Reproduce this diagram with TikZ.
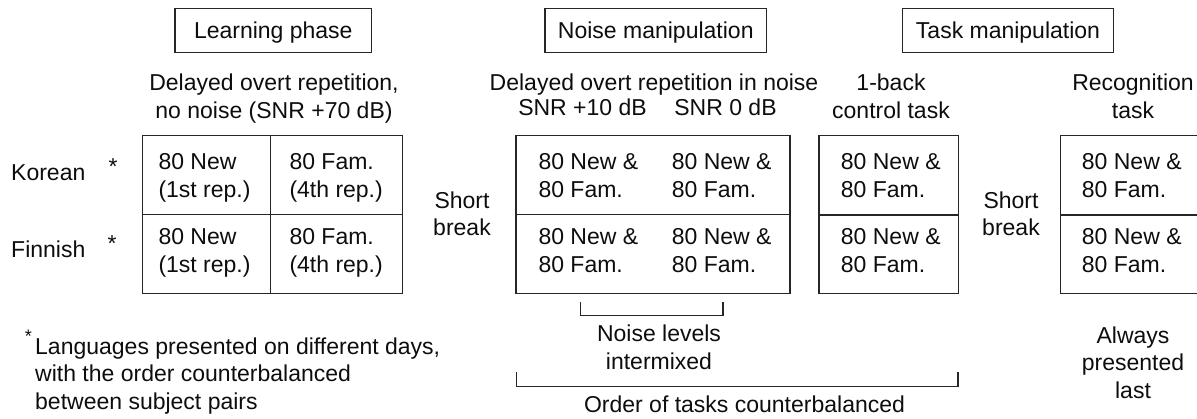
\documentclass[tikz,border=0pt]{standalone}
\usepackage{fontspec}
\setmainfont{Liberation Sans}
\newcommand{\fs}{\fontsize{23}{27.6}\selectfont}
\begin{document}
\begin{tikzpicture}[x=1pt,y=-1pt,
  txt/.style={font=\fs, inner sep=0pt, text=black!95},
  ctr/.style={txt, align=center, anchor=north},
  lft/.style={txt, align=left, anchor=north west},
  bse/.style={txt, anchor=base},
  frame/.style={draw=black!85, line width=1.2pt},
  title/.style={frame, txt, text height=16.6pt, text depth=0pt, minimum height=44.4pt, anchor=center}]
\useasboundingbox (0,0) rectangle (1197,419);

% titles
\node[title, minimum width=196.7pt] (tlearn) at (273.3,30.5) {Learning phase};
\node[title, minimum width=221.7pt] (tnoise) at (655.8,30.5) {Noise manipulation};
\node[title, minimum width=210.6pt] (ttask) at (1008,30.5) {Task manipulation};

% column headers
\node[ctr] (hlearn) at (274,74.1) {Delayed overt repetition,\\no noise (SNR +70 dB)};
\node[bse] (hnoise) at (654,90.7) {Delayed overt repetition in noise};
\node[bse] (snr10) at (582.5,116) {SNR +10 dB};
\node[bse] (snr0) at (725.5,116) {SNR 0 dB};
\node[ctr] (hback) at (891,74.1) {1-back\\control task};
\node[ctr] (hrec) at (1133,74.1) {Recognition\\task};

% row labels
\node[bse, anchor=base west] (korean) at (11,181) {Korean};
\node[bse, anchor=base west] (finnish) at (11,258) {Finnish};
\node[bse] (stark) at (113,174.5) {*};
\node[bse] (starf) at (112,251.5) {*};

% learning table
\draw[frame] (142.7,135.7) rectangle (402.3,293.3);
\draw[frame] (142.7,214.3) -- (402.3,214.3);
\draw[frame] (270.7,135.7) -- (270.7,293.3);
\node[lft] (l11) at (158.3,153.4) {80 New\\(1st rep.)};
\node[lft] (l12) at (289.3,153.4) {80 Fam.\\(4th rep.)};
\node[lft] (l21) at (158.3,228.4) {80 New\\(1st rep.)};
\node[lft] (l22) at (289.3,228.4) {80 Fam.\\(4th rep.)};

% short break 1
\node[ctr] (break1) at (462,191.4) {Short\\break};

% noise table
\draw[frame] (516,135.7) rectangle (790,293.3);
\draw[frame] (516,214.3) -- (790,214.3);
\node[lft] (n11) at (538.3,153.4) {80 New \&\\80 Fam.};
\node[lft] (n12) at (671.7,153.4) {80 New \&\\80 Fam.};
\node[lft] (n21) at (538.3,228.4) {80 New \&\\80 Fam.};
\node[lft] (n22) at (671.7,228.4) {80 New \&\\80 Fam.};

% 1-back table
\draw[frame] (819,135.7) rectangle (958.3,293.3);
\draw[frame] (819,215) -- (958.3,215);
\node[lft] (b1) at (840.7,153.4) {80 New \&\\80 Fam.};
\node[lft] (b2) at (840.7,228.4) {80 New \&\\80 Fam.};

% short break 2
\node[ctr] (break2) at (1011,191.4) {Short\\break};

% recognition table (cut at right edge)
\draw[frame] (1197,135.7) -- (1060.7,135.7) -- (1060.7,293.3) -- (1197,293.3);
\draw[frame] (1060.7,215) -- (1197,215);
\node[lft] (r1) at (1081.7,153.4) {80 New \&\\80 Fam.};
\node[lft] (r2) at (1081.7,228.4) {80 New \&\\80 Fam.};

% brackets
\draw[frame] (580.3,301.7) -- (580.3,315.3) -- (723,315.3) -- (723,301.7);
\node[ctr] (mixed) at (659,325.1) {Noise levels\\intermixed};
\draw[frame] (516.3,371.7) -- (516.3,386.7) -- (958,386.7) -- (958,371.7);
\node[bse] (order) at (744.5,413) {Order of tasks counterbalanced};

\node[ctr] (last) at (1133,326.4) {Always\\presented\\last};

% footnote
\node[bse, font=\fontsize{18}{18}\selectfont] (fnstar) at (28.5,342.9) {*};
\node[lft] (fn) at (35,337.4) {Languages presented on different days,\\with the order counterbalanced\\between subject pairs};
\end{tikzpicture}
\end{document}
